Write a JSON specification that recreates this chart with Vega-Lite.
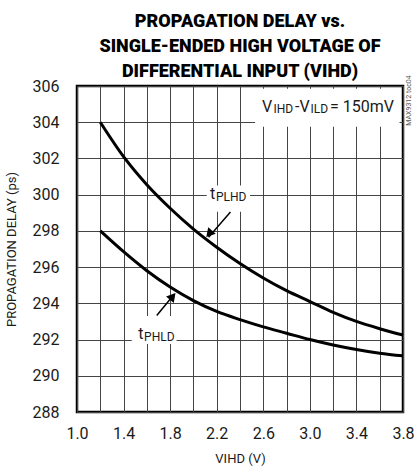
{
  "$schema": "https://vega.github.io/schema/vega-lite/v6.json",
  "width": 326,
  "height": 326,
  "autosize": "none",
  "padding": {"left": 77, "top": 86, "right": 11, "bottom": 63},
  "config": {
    "font": "Roboto, Liberation Sans, sans-serif",
    "view": {"stroke": "#000", "strokeWidth": 2.5},
    "axis": {
      "grid": true,
      "gridColor": "#444",
      "gridWidth": 1,
      "gridOpacity": 1,
      "domain": false,
      "ticks": false,
      "tickSize": 0,
      "labelFont": "Roboto, Liberation Sans, sans-serif",
      "titleFont": "Roboto, Liberation Sans, sans-serif",
      "labelFontSize": 16,
      "labelColor": "#1a1a1a",
      "titleFontSize": 13,
      "titleFontWeight": "normal",
      "titleColor": "#1a1a1a",
      "labelFlush": false,
      "labelOverlap": false,
      "labelBound": false
    },
    "text": {"font": "Roboto, Liberation Sans, sans-serif"}
  },
  "title": {
    "text": ["PROPAGATION DELAY vs.", "SINGLE-ENDED HIGH VOLTAGE OF", "DIFFERENTIAL INPUT (VIHD)"],
    "font": "Roboto, Liberation Sans, sans-serif",
    "fontSize": 18,
    "fontWeight": 900,
    "lineHeight": 25,
    "anchor": "middle",
    "frame": "group",
    "offset": -6,
    "color": "#000"
  },
  "datasets": {
    "curves": [
      {"series": "tPLHD", "v": 1.2, "delay": 304.0},
      {"series": "tPLHD", "v": 1.4, "delay": 302.1},
      {"series": "tPLHD", "v": 1.6, "delay": 300.55},
      {"series": "tPLHD", "v": 1.8, "delay": 299.25},
      {"series": "tPLHD", "v": 2.0, "delay": 298.1},
      {"series": "tPLHD", "v": 2.2, "delay": 297.1},
      {"series": "tPLHD", "v": 2.4, "delay": 296.2},
      {"series": "tPLHD", "v": 2.6, "delay": 295.4},
      {"series": "tPLHD", "v": 2.8, "delay": 294.7},
      {"series": "tPLHD", "v": 3.0, "delay": 294.1},
      {"series": "tPLHD", "v": 3.2, "delay": 293.5},
      {"series": "tPLHD", "v": 3.4, "delay": 293.0},
      {"series": "tPLHD", "v": 3.6, "delay": 292.6},
      {"series": "tPLHD", "v": 3.8, "delay": 292.25},
      {"series": "tPHLD", "v": 1.2, "delay": 298.0},
      {"series": "tPHLD", "v": 1.4, "delay": 296.85},
      {"series": "tPHLD", "v": 1.6, "delay": 295.8},
      {"series": "tPHLD", "v": 1.8, "delay": 294.9},
      {"series": "tPHLD", "v": 2.0, "delay": 294.15},
      {"series": "tPHLD", "v": 2.2, "delay": 293.55},
      {"series": "tPHLD", "v": 2.4, "delay": 293.1},
      {"series": "tPHLD", "v": 2.6, "delay": 292.7},
      {"series": "tPHLD", "v": 2.8, "delay": 292.35},
      {"series": "tPHLD", "v": 3.0, "delay": 292.0},
      {"series": "tPHLD", "v": 3.2, "delay": 291.7},
      {"series": "tPHLD", "v": 3.4, "delay": 291.45},
      {"series": "tPHLD", "v": 3.6, "delay": 291.25},
      {"series": "tPHLD", "v": 3.8, "delay": 291.1}
    ],
    "boxes": [
      {"name": "cond", "v1": 2.53, "v2": 3.77, "p1": 303.75, "p2": 305.85},
      {"name": "tPLHD", "v1": 2.114, "v2": 2.486, "p1": 299.05, "p2": 300.5},
      {"name": "tPHLD", "v1": 1.47, "v2": 1.855, "p1": 291.75, "p2": 293.3}
    ],
    "arrows": [
      {"name": "tPLHD", "v1": 2.318, "p1": 299.04, "v2": 2.13, "p2": 297.65},
      {"name": "tPHLD", "v1": 1.685, "p1": 293.33, "v2": 1.835, "p2": 294.5}
    ],
    "heads": [
      {"name": "tPLHD", "v": 2.143, "p": 297.9},
      {"name": "tPHLD", "v": 1.814, "p": 294.32}
    ],
    "texts": [
      {"role": "main", "t": "V", "v": 2.59, "p": 304.59},
      {"role": "main", "t": "-V", "v": 2.873, "p": 304.59},
      {"role": "main", "t": "= 150mV", "v": 3.174, "p": 304.59},
      {"role": "main", "t": "t", "v": 2.143, "p": 299.78},
      {"role": "main", "t": "t", "v": 1.527, "p": 292.04},
      {"role": "sub", "t": "IHD", "v": 2.688, "p": 304.5},
      {"role": "sub", "t": "ILD", "v": 3.006, "p": 304.5},
      {"role": "sub", "t": "PLHD", "v": 2.194, "p": 299.65},
      {"role": "sub", "t": "PHLD", "v": 1.576, "p": 291.94},
      {"role": "side", "t": "MAX9312 toc04", "v": 3.852, "p": 305.2}
    ]
  },
  "layer": [
    {
      "data": {"name": "boxes"},
      "mark": {"type": "rect", "fill": "#fff", "stroke": null},
      "encoding": {
        "x": {"field": "v1", "type": "quantitative", "scale": {"domain": [1.0, 3.8], "nice": false, "zero": false},
          "axis": {
            "title": "VIHD (V)",
            "values": [1.0, 1.2, 1.4, 1.6, 1.8, 2.0, 2.2, 2.4, 2.6, 2.8, 3.0, 3.2, 3.4, 3.6, 3.8],
            "tickCount": 30,
            "labelOverlap": false,
            "labelExpr": "round(datum.value*10) % 4 == 2 ? format(datum.value, '.1f') : ''",
            "labelPadding": 13,
            "titlePadding": 11
          }},
        "x2": {"field": "v2"},
        "y": {"field": "p1", "type": "quantitative", "scale": {"domain": [288, 306], "nice": false, "zero": false},
          "axis": {
            "title": "PROPAGATION DELAY (ps)",
            "values": [288, 290, 292, 294, 296, 298, 300, 302, 304, 306],
            "tickCount": 30,
            "labelOverlap": false,
            "format": "d",
            "labelPadding": 18,
            "titlePadding": 14
          }},
        "y2": {"field": "p2"}
      }
    },
    {
      "data": {"name": "curves"},
      "mark": {"type": "line", "interpolate": "monotone", "color": "#000", "strokeWidth": 3},
      "encoding": {
        "x": {"field": "v", "type": "quantitative"},
        "y": {"field": "delay", "type": "quantitative"},
        "detail": {"field": "series"}
      }
    },
    {
      "data": {"name": "arrows"},
      "mark": {"type": "rule", "color": "#000", "strokeWidth": 1.5},
      "encoding": {
        "x": {"field": "v1", "type": "quantitative"},
        "y": {"field": "p1", "type": "quantitative"},
        "x2": {"field": "v2"},
        "y2": {"field": "p2"}
      }
    },
    {
      "data": {"name": "heads"},
      "transform": [{"filter": "datum.name == 'tPLHD'"}],
      "mark": {"type": "point", "shape": "triangle", "filled": true, "color": "#000", "size": 100, "angle": 221, "opacity": 1},
      "encoding": {
        "x": {"field": "v", "type": "quantitative"},
        "y": {"field": "p", "type": "quantitative"}
      }
    },
    {
      "data": {"name": "heads"},
      "transform": [{"filter": "datum.name == 'tPHLD'"}],
      "mark": {"type": "point", "shape": "triangle", "filled": true, "color": "#000", "size": 100, "angle": 40, "opacity": 1},
      "encoding": {
        "x": {"field": "v", "type": "quantitative"},
        "y": {"field": "p", "type": "quantitative"}
      }
    },
    {
      "data": {"name": "texts"},
      "transform": [{"filter": "datum.role == 'main'"}],
      "mark": {"type": "text", "fontSize": 16, "align": "left", "baseline": "alphabetic", "color": "#1a1a1a"},
      "encoding": {
        "x": {"field": "v", "type": "quantitative"},
        "y": {"field": "p", "type": "quantitative"},
        "text": {"field": "t"}
      }
    },
    {
      "data": {"name": "texts"},
      "transform": [{"filter": "datum.role == 'sub'"}],
      "mark": {"type": "text", "fontSize": 12, "align": "left", "baseline": "alphabetic", "color": "#1a1a1a"},
      "encoding": {
        "x": {"field": "v", "type": "quantitative"},
        "y": {"field": "p", "type": "quantitative"},
        "text": {"field": "t"}
      }
    },
    {
      "data": {"name": "texts"},
      "transform": [{"filter": "datum.role == 'side'"}],
      "mark": {"type": "text", "fontSize": 7, "angle": 270, "align": "center", "baseline": "middle", "color": "#555"},
      "encoding": {
        "x": {"field": "v", "type": "quantitative"},
        "y": {"field": "p", "type": "quantitative"},
        "text": {"field": "t"}
      }
    }
  ]
}
